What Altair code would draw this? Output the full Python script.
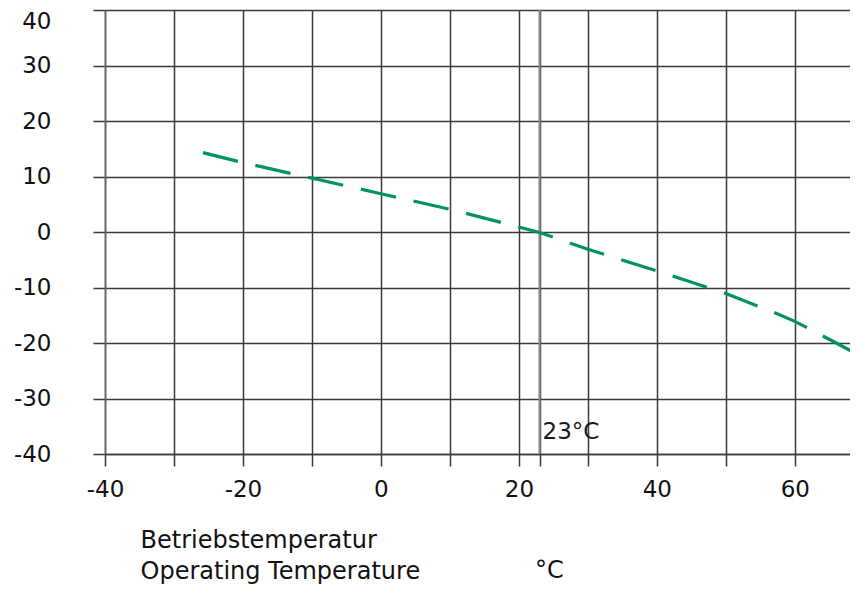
import altair as alt
import pandas as pd

# Data
temp_x = [-25.8, -20, -10, 0, 10, 20, 23, 30, 40, 50, 57, 60, 66, 69]
temp_y = [14.3, 12.5, 9.7, 6.9, 4.1, 0.9, -0.1, -3.1, -7.0, -11.1, -14.5, -16.1, -20.0, -22.0]

x_ticks = [-40, -30, -20, -10, 0, 10, 20, 23, 30, 40, 50, 60]
y_ticks = [-40, -30, -20, -10, 0, 10, 20, 30, 40]
ref_temp = 23
ref_label = "23°C"
x_title = ["Betriebstemperatur", "Operating Temperature"]
unit_label = "°C"

FONT = "DejaVu Sans"
GREEN = "#00935e"
GRID = "#3a3a3a"

df = pd.DataFrame({"t": temp_x, "v": temp_y})
ref_df = pd.DataFrame({"t": [ref_temp, ref_temp], "v": [-40, 40]})
lab_df = pd.DataFrame({"t": [ref_temp], "v": [-37.3], "txt": [ref_label]})

xscale = alt.Scale(domain=[-40, 68], nice=False, zero=False)
yscale = alt.Scale(domain=[-40, 40], nice=False, zero=False)

xaxis = alt.Axis(
    values=x_ticks,
    labelExpr="datum.value % 20 === 0 ? ('' + datum.value) : ''",
    labelOverlap=False,
    labelFlush=False,
    grid=True, gridColor=GRID, gridWidth=1.5,
    tickSize=12, tickColor=GRID, tickWidth=1.5,
    domain=True, domainColor=GRID, domainWidth=1.5,
    labelFont=FONT, labelFontSize=23, labelColor="#111111", labelPadding=12,
    title=x_title, titleFont=FONT, titleFontSize=24, titleFontWeight="normal",
    titleColor="#111111", titleAlign="left", titleAnchor="start",
    titleX=35, titleY=93, titleBaseline="alphabetic", titleLineHeight=31,
)
yaxis = alt.Axis(
    values=y_ticks,
    labelExpr="'' + datum.value",
    labelOverlap=False,
    labelFlush=False,
    labelBaseline={"condition": {"test": "datum.value == 40", "value": "top"}, "value": "middle"},
    grid=True, gridColor=GRID, gridWidth=1.5,
    tickSize=12, tickColor=GRID, tickWidth=1.5,
    domain=True, domainColor="#666666", domainWidth=1.5,
    labelFont=FONT, labelFontSize=23, labelColor="#111111", labelPadding=42,
    title=None,
)

base = alt.Chart(df)

line = base.mark_line(
    color=GREEN, strokeWidth=3.2, strokeDash=[36, 18], clip=True
).encode(
    x=alt.X("t:Q", scale=xscale, axis=xaxis),
    y=alt.Y("v:Q", scale=yscale, axis=yaxis),
)

ref_rule = alt.Chart(ref_df).mark_line(color="#8a8a8a", strokeWidth=2.2).encode(
    x=alt.X("t:Q", scale=xscale),
    y=alt.Y("v:Q", scale=yscale),
)

ref_text = alt.Chart(lab_df).mark_text(
    font=FONT, fontSize=23, color="#1a1a1a", align="left", baseline="alphabetic", dx=3
).encode(
    x=alt.X("t:Q", scale=xscale),
    y=alt.Y("v:Q", scale=yscale),
    text="txt:N",
)

unit_text = alt.Chart(pd.DataFrame({"u": [unit_label]})).mark_text(
    font=FONT, fontSize=24, color="#111111", align="left", baseline="alphabetic"
).encode(
    x=alt.value(430), y=alt.value(568), text="u:N"
)

chart = alt.layer(ref_rule, line, ref_text, unit_text).properties(
    width=745, height=444,
    autosize=alt.AutoSizeParams(type="none"),
    padding={"left": 97, "top": 2, "right": 0, "bottom": 130},
).configure_view(stroke=None).configure(background="white")

chart.save("out.html", embed_options={"renderer": "svg", "actions": False})
